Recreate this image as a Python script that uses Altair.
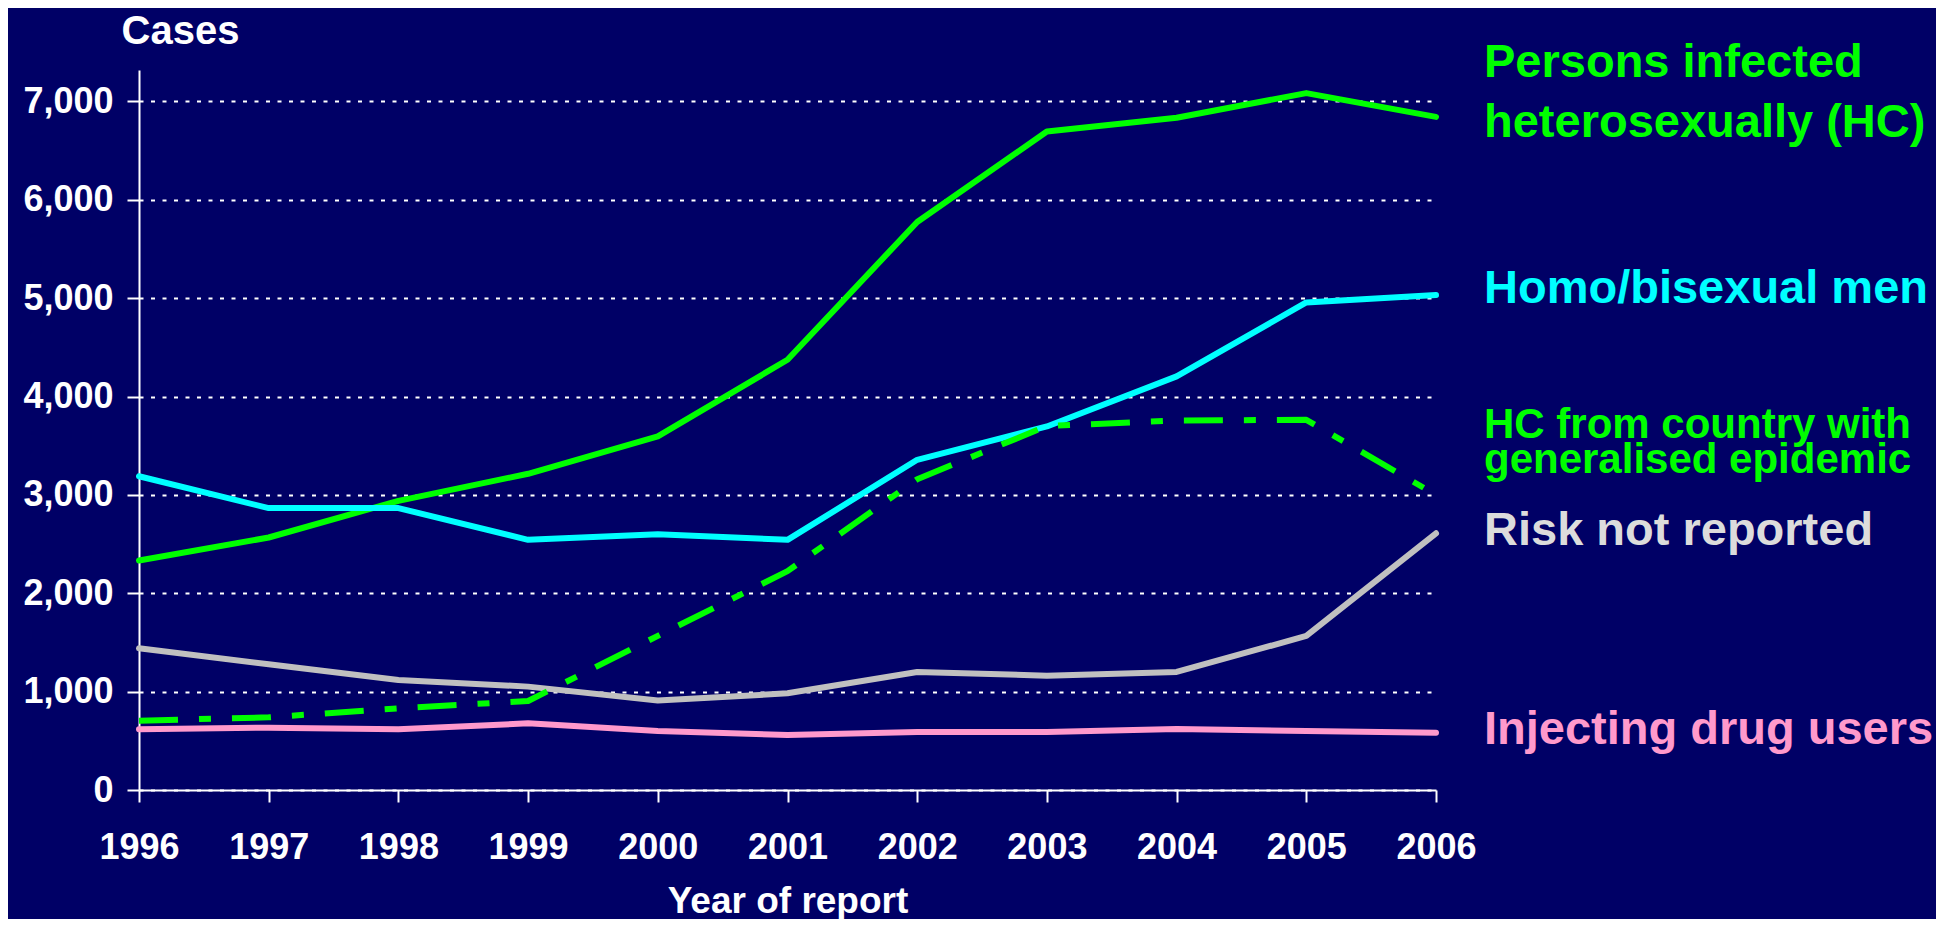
import altair as alt
import pandas as pd

years = list(range(1996, 2007))
hc = [2333, 2567, 2940, 3215, 3595, 4374, 5775, 6695, 6835, 7085, 6843]
msm = [3190, 2866, 2866, 2543, 2601, 2543, 3357, 3696, 4205, 4957, 5032]
hc_gen = [705, 739, 831, 905, 1567, 2225, 3160, 3700, 3757, 3763, 3000]
risk = [1441, 1278, 1119, 1051, 909, 983, 1200, 1162, 1200, 1566, 2610]
idu = [617, 634, 617, 678, 600, 560, 590, 590, 620, 600, 583]

series_names = ["HC", "MSM", "HCGEN", "RISK", "IDU"]
series_values = [hc, msm, hc_gen, risk, idu]
line_colors = ["#00ff00", "#00ffff", "#00ff00", "#c0c0c0", "#ff99cc"]

label_texts = [
    "Persons infected\nheterosexually (HC)",
    "Homo/bisexual men",
    "HC from country with\ngeneralised epidemic",
    "Risk not reported",
    "Injecting drug users",
]
label_y = [7390, 5090, 3710, 2635, 610]
label_colors = ["#00ff00", "#00ffff", "#00ff00", "#dcdcdc", "#ff99cc"]
label_sizes = [47, 47, 42, 47, 47]
label_lh = [60, 60, 35, 60, 60]

rows = []
for name, vals in zip(series_names, series_values):
    for yr, v in zip(years, vals):
        rows.append({"series": name, "year": yr, "cases": v})
df = pd.DataFrame(rows)

FONT = "Liberation Sans, Arial, Helvetica, sans-serif"

x = alt.X(
    "year:Q",
    scale=alt.Scale(domain=[1996, 2006], nice=False, zero=False),
    axis=alt.Axis(
        values=years,
        format="d",
        title="Year of report",
        titleFontSize=37,
        titleFont=FONT,
        titleFontWeight="bold",
        titleColor="white",
        titleBaseline="middle",
        titleY=111,
        labelBaseline="middle",
        labelPadding=45,
        labelFlush=False,
        labelOverlap=False,
        labelBound=False,
        grid=False,
    ),
)
y = alt.Y(
    "cases:Q",
    scale=alt.Scale(domain=[0, 7320], nice=False),
    axis=alt.Axis(
        values=[0, 1000, 2000, 3000, 4000, 5000, 6000, 7000],
        format=",.0f",
        title="Cases",
        titleAngle=0,
        titleAlign="left",
        titleBaseline="middle",
        titleX=-18,
        titleY=-39,
        titleFontSize=40,
        titleFont=FONT,
        titleFontWeight="bold",
        titleColor="white",
        labelPadding=14,
        labelFlush=False,
        labelOverlap=False,
        grid=True,
        gridColor="white",
        gridDash=[4, 7.5],
        gridWidth=2,
    ),
)

color_scale = alt.Scale(domain=series_names, range=line_colors)

solid = (
    alt.Chart(df)
    .transform_filter(alt.datum.series != "HCGEN")
    .mark_line(strokeWidth=6, strokeCap="round", strokeJoin="round")
    .encode(x=x, y=y, color=alt.Color("series:N", scale=color_scale, legend=None),
            order="year:Q", detail="series:N")
)

dashed = (
    alt.Chart(df)
    .transform_filter(alt.datum.series == "HCGEN")
    .mark_line(strokeWidth=6, strokeDash=[39, 21, 12, 21], strokeJoin="round")
    .encode(x=x, y=y, color=alt.Color("series:N", scale=color_scale, legend=None),
            order="year:Q")
)

lab_df = pd.DataFrame({
    "year": [2006] * len(label_texts),
    "cases": label_y,
    "text": label_texts,
})

labels = []
for i in range(len(label_texts)):
    sub = lab_df.iloc[[i]]
    labels.append(
        alt.Chart(sub)
        .mark_text(
            align="left",
            baseline="middle",
            dx=48,
            font=FONT,
            fontWeight="bold",
            fontSize=label_sizes[i],
            lineHeight=label_lh[i],
            lineBreak="\n",
            color=label_colors[i],
        )
        .encode(x=alt.X("year:Q"), y=alt.Y("cases:Q"), text="text:N")
    )

chart = (
    alt.layer(solid, dashed, *labels)
    .properties(
        width=1297,
        height=720,
        padding={"left": 131, "top": 62, "right": 500, "bottom": 129},
        autosize=alt.AutoSizeParams(type="none"),
        background="#000066",
    )
    .configure_view(stroke=None)
    .configure_axis(
        domainColor="white",
        domainWidth=2,
        tickColor="white",
        tickWidth=2,
        tickSize=12,
        labelColor="white",
        labelFont=FONT,
        labelFontWeight="bold",
        labelFontSize=36,
    )
)

chart.save("out.html", embed_options={"renderer": "svg", "actions": False})
